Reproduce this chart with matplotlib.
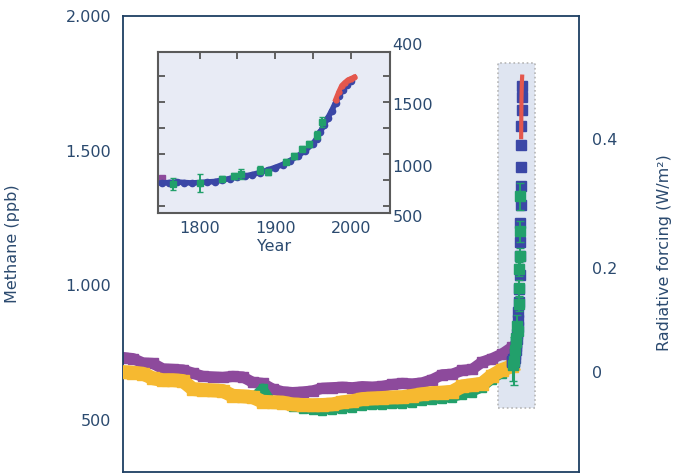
import matplotlib.pyplot as plt
from matplotlib.patches import Rectangle, ConnectionPatch

plt.rcParams['font.family'] = 'DejaVu Sans'

# ice core records over the last 10,000 years (ppb)
core_years = [-8000, -7750, -7500, -7250, -7000, -6750, -6500, -6250, -6000, -5750,
              -5500, -5250, -5000, -4750, -4500, -4250, -4000, -3750, -3500, -3250,
              -3000, -2750, -2500, -2250, -2000, -1750, -1500, -1250, -1000, -750,
              -500, -250, 0, 250, 500, 750, 1000, 1250, 1500, 1750]
purple_ppb = [732, 728, 712, 710, 690, 688, 686, 674, 662, 660,
              658, 662, 660, 640, 636, 615, 605, 602, 604, 608,
              618, 620, 622, 620, 624, 622, 625, 632, 636, 634,
              638, 650, 668, 670, 684, 688, 715, 728, 745, 770]
yellow_ppb = [678, 676, 672, 655, 648, 648, 645, 615, 612, 610,
              608, 590, 588, 585, 568, 566, 565, 558, 556, 555,
              556, 558, 566, 570, 578, 580, 582, 584, 585, 590,
              596, 600, 602, 605, 625, 630, 635, 665, 686, 700]
green_years = [-4750, -4500, -4250, -4000, -3750, -3500, -3250, -3000, -2750, -2500,
               -2250, -2000, -1750, -1500, -1250, -1000, -750, -500, -250, 0,
               250, 500, 750, 1000, 1250, 1500, 1750]
green_ppb = [585, 620, 566, 560, 548, 542, 536, 535, 538, 542,
             546, 552, 555, 556, 558, 560, 565, 570, 574, 578,
             582, 592, 602, 618, 648, 672, 700]

# records since 1750 (ppb)
law_years = [1750, 1760, 1770, 1780, 1790, 1800, 1810, 1820, 1830, 1840,
             1850, 1860, 1870, 1880, 1890, 1900, 1910, 1920, 1930, 1940,
             1950, 1955, 1960, 1965, 1970, 1975, 1980, 1985, 1990, 1995, 2000]
law_ppb = [715, 720, 725, 720, 715, 720, 725, 730, 745, 760,
           775, 785, 800, 820, 845, 870, 900, 940, 985, 1040,
           1110, 1160, 1230, 1300, 1370, 1440, 1520, 1590, 1650, 1700, 1740]
firn_years = [1765, 1800, 1830, 1845, 1855, 1880, 1890, 1915, 1925, 1935, 1945, 1955, 1962]
firn_ppb = [705, 720, 760, 790, 805, 850, 830, 930, 990, 1060, 1110, 1200, 1330]
firn_err = [60, 90, 25, 30, 50, 40, 30, 25, 30, 25, 30, 40, 50]
air_years = [1980, 1984, 1988, 1992, 1996, 2000, 2005]
air_ppb = [1550, 1625, 1690, 1720, 1745, 1760, 1775]

left_ticks = [500, 1000, 1500, 2000]
left_labels = ['500', '1.000', '1.500', '2.000']
rf_ppb = [678, 1064, 1543]
rf_labels = ['0', '0.2', '0.4']
inset_label_ppb = [365, 875, 1485, 2095]
inset_labels = ['500', '1000', '1500', '400']

navy = '#1e3f62'
txt = '#2b4a6f'
purple = '#8d4a9c'
yellow = '#f6b930'
green = '#22a06b'
blue = '#3b47a6'
red = '#e4574d'

fig = plt.figure(figsize=(6.76, 4.74), dpi=100)
ax = fig.add_axes([123 / 676, 2 / 474, 456 / 676, 456 / 474])

ax.set_xlim(-8000, 3430)
ax.set_ylim(307, 2000)

# highlighted recent period
ax.add_patch(Rectangle((1404, 545), 927, 1280, facecolor='#dfe5f1',
                       edgecolor='#b5b5b5', lw=1.2, ls=':', zorder=1))

ax.plot(core_years, purple_ppb, 's-', color=purple, ms=7, lw=8, zorder=2)
ax.plot(green_years, green_ppb, 's-', color=green, ms=6, lw=6, zorder=3)
ax.plot(core_years, yellow_ppb, 's-', color=yellow, ms=8, lw=10, zorder=4)

ax.plot(law_years, law_ppb, 's', color=blue, ms=7.5, zorder=5)
ax.errorbar(firn_years, firn_ppb, yerr=firn_err, fmt='s', color=green, ms=6.5,
            capsize=3, elinewidth=1.5, zorder=6)
ax.plot(air_years, air_ppb, '-', color=red, lw=3, zorder=7)

ax.set_xticks([])
ax.set_yticks(left_ticks)
ax.set_yticklabels(left_labels)
ax.tick_params(axis='y', length=0, pad=8.5, labelsize=11.5, labelcolor=txt)
ax.set_ylabel('Methane (ppb)', fontsize=11.5, color=txt)
ax.yaxis.set_label_coords(-0.226, 0.5)
for s in ax.spines.values():
    s.set_color(navy)
    s.set_linewidth(1.3)

ax2 = ax.twinx()
ax2.set_ylim(ax.get_ylim())
ax2.set_yticks(rf_ppb)
ax2.set_yticklabels(rf_labels)
ax2.tick_params(axis='y', length=0, pad=9.5, labelsize=11.5, labelcolor=txt)
ax2.set_ylabel('Radiative forcing (W/m²)', fontsize=11.5, color=txt)
ax2.yaxis.set_label_coords(1.171, 0.48)
for s in ax2.spines.values():
    s.set_visible(False)

# inset: since 1750
axi = fig.add_axes([158 / 676, 1 - 213 / 474, 232 / 676, 161 / 474])
axi.set_facecolor('#e8ebf5')
axi.set_xlim(1745, 2052)
axi.set_ylim(415, 2025)
axi.plot(core_years[-2:], purple_ppb[-2:], 's', color=purple, ms=4, zorder=2)
axi.plot(law_years, law_ppb, 'o-', color=blue, ms=4.5, lw=4, zorder=3)
axi.errorbar(firn_years, firn_ppb, yerr=firn_err, fmt='s', color=green, ms=4.5,
             capsize=2.5, elinewidth=1.4, zorder=4)
axi.plot(air_years, air_ppb, 'o-', color=red, ms=3.5, lw=3.5, zorder=5)

axi.set_xticks([1800, 1900, 2000])
axi.set_xticks([1850, 1950], minor=True)
axi.tick_params(axis='x', which='both', top=True, bottom=False, direction='in',
                length=5, width=1.3, color='#555555', pad=6, labelsize=11.5,
                labelcolor=txt)
axi.set_yticks([490, 750, 1005, 1265, 1525, 1790])
axi.tick_params(axis='y', left=True, right=True, labelleft=False, direction='in',
                length=5, width=1.3, color='#555555')
axi.set_xlabel('Year', fontsize=11.5, color=txt, labelpad=2)
for v, lab in zip(inset_label_ppb, inset_labels):
    axi.text(1.01, v, lab, transform=axi.get_yaxis_transform(), ha='left',
             va='center', fontsize=11.5, color=txt, clip_on=False)
for s in axi.spines.values():
    s.set_color('#5a5a5a')
    s.set_linewidth(1.5)

for xy_in, xy_main in [((1, 1), (1404, 1825)), ((0, 0), (1404, 545))]:
    con = ConnectionPatch(xyA=xy_in, coordsA=axi.transAxes, xyB=xy_main,
                          coordsB=ax.transData, color='#b8b8b8', lw=1.5, zorder=0)
    fig.add_artist(con)

fig.savefig('out.png', dpi=100)
